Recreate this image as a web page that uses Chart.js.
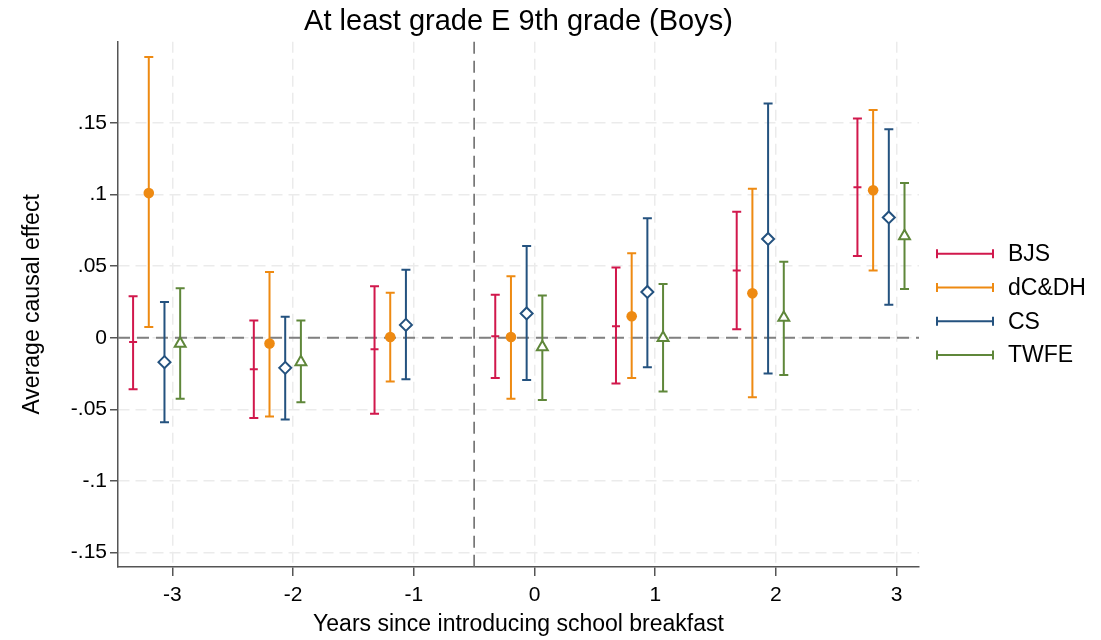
<!DOCTYPE html>
<html>
<head>
<meta charset="utf-8">
<title>At least grade E 9th grade (Boys)</title>
<script src="https://cdn.jsdelivr.net/npm/chart.js@4.4.1/dist/chart.umd.min.js"></script>
<style>
    html, body { margin: 0; padding: 0; background: #fff; }
    canvas { display: block; }
</style>
</head>
<body>
<canvas id="chart" width="1101" height="640"></canvas>
<script>
// ================= DATA =================

const years = [-3, -2, -1, 0, 1, 2, 3];

const bjsEst = [-0.003, -0.022, -0.008, 0.001, 0.008, 0.047, 0.105];
const bjsLo  = [-0.036, -0.056, -0.053, -0.028, -0.032, 0.006, 0.057];
const bjsHi  = [0.029, 0.012, 0.036, 0.030, 0.049, 0.088, 0.153];

const dcdhEst = [0.101, -0.004, 0.0005, 0.0005, 0.015, 0.031, 0.103];
const dcdhLo  = [0.0075, -0.055, -0.0305, -0.0425, -0.028, -0.0415, 0.047];
const dcdhHi  = [0.196, 0.046, 0.0315, 0.043, 0.059, 0.104, 0.159];

const csEst = [-0.017, -0.021, 0.009, 0.017, 0.032, 0.069, 0.084];
const csLo  = [-0.059, -0.057, -0.029, -0.0295, -0.0205, -0.025, 0.023];
const csHi  = [0.025, 0.0147, 0.0475, 0.064, 0.0835, 0.1635, 0.1455];

// TWFE has no estimate for the reference year -1
const twfeEst = [-0.004, -0.017, null, -0.0065, 0.0, 0.014, 0.071];
const twfeLo  = [-0.0425, -0.045, null, -0.0435, -0.0375, -0.026, 0.034];
const twfeHi  = [0.0345, 0.012, null, 0.0295, 0.0375, 0.053, 0.108];

const xTicks = [-3, -2, -1, 0, 1, 2, 3];
const xTickLabels = ["-3", "-2", "-1", "0", "1", "2", "3"];
const yTicks = [-0.15, -0.1, -0.05, 0, 0.05, 0.1, 0.15];
const yTickLabels = ["-.15", "-.1", "-.05", "0", ".05", ".1", ".15"];

const titleText = "At least grade E 9th grade (Boys)";
const xTitle = "Years since introducing school breakfast";
const yTitle = "Average causal effect";

const zeroLine = 0;
const treatmentLine = -0.5;

// ================= SERIES STYLE =================

const series = [
    { name: "BJS",   est: bjsEst,  lo: bjsLo,  hi: bjsHi,  color: "#d1184c", offset: -0.325, pointStyle: "line",     radius: 4,   fill: "#d1184c" },
    { name: "dC&DH", est: dcdhEst, lo: dcdhLo, hi: dcdhHi, color: "#ee8a12", offset: -0.195, pointStyle: "circle",   radius: 5.3, fill: "#ee8a12" },
    { name: "CS",    est: csEst,   lo: csLo,   hi: csHi,   color: "#24527f", offset: -0.065, pointStyle: "rectRot",  radius: 6,   fill: "#ffffff" },
    { name: "TWFE",  est: twfeEst, lo: twfeLo, hi: twfeHi, color: "#5f873a", offset: 0.065,  pointStyle: "triangle", radius: 6.3, fill: "#ffffff" }
];

const FONT = '"Liberation Sans", Arial, Helvetica, sans-serif';
Chart.defaults.font.family = FONT;
Chart.defaults.color = "#000";

// ================= PLUGINS =================

const referenceLines = {
    id: "referenceLines",
    beforeDatasetsDraw(chart) {
        const { ctx, chartArea, scales: { x, y } } = chart;
        ctx.save();
        ctx.lineWidth = 2;
        ctx.strokeStyle = "#808080";
        ctx.setLineDash([12, 7]);
        const y0 = y.getPixelForValue(zeroLine);
        ctx.beginPath();
        ctx.moveTo(chartArea.left, y0);
        ctx.lineTo(chartArea.right, y0);
        ctx.stroke();

        ctx.lineWidth = 1.6;
        ctx.strokeStyle = "#6e6e6e";
        const xv = x.getPixelForValue(treatmentLine);
        ctx.beginPath();
        ctx.moveTo(xv, chartArea.top);
        ctx.lineTo(xv, chartArea.bottom);
        ctx.stroke();
        ctx.restore();
    }
};

const errorBars = {
    id: "errorBars",
    beforeDatasetsDraw(chart) {
        const { ctx, scales: { x, y } } = chart;
        const cap = 4.5;
        ctx.save();
        ctx.lineWidth = 2;
        series.forEach(s => {
            ctx.strokeStyle = s.color;
            years.forEach((yr, i) => {
                if (s.lo[i] == null) return;
                const px = x.getPixelForValue(yr + s.offset);
                const pLo = y.getPixelForValue(s.lo[i]);
                const pHi = y.getPixelForValue(s.hi[i]);
                ctx.beginPath();
                ctx.moveTo(px, pLo);
                ctx.lineTo(px, pHi);
                ctx.moveTo(px - cap, pLo);
                ctx.lineTo(px + cap, pLo);
                ctx.moveTo(px - cap, pHi);
                ctx.lineTo(px + cap, pHi);
                ctx.stroke();
            });
        });
        ctx.restore();
    }
};

const sideLegend = {
    id: "sideLegend",
    afterDraw(chart) {
        const { ctx, chartArea } = chart;
        const mid = (chartArea.top + chartArea.bottom) / 2;
        const step = 33.7;
        const x1 = chartArea.right + 18;
        const x2 = chartArea.right + 74;
        ctx.save();
        ctx.font = "23px " + FONT;
        ctx.textBaseline = "middle";
        ctx.textAlign = "left";
        series.forEach((s, i) => {
            const yy = mid + (i - 1.5) * step;
            ctx.strokeStyle = s.color;
            ctx.lineWidth = 2;
            ctx.beginPath();
            ctx.moveTo(x1, yy);
            ctx.lineTo(x2, yy);
            ctx.moveTo(x1, yy - 4.5);
            ctx.lineTo(x1, yy + 4.5);
            ctx.moveTo(x2, yy - 4.5);
            ctx.lineTo(x2, yy + 4.5);
            ctx.stroke();
            ctx.fillStyle = "#000";
            ctx.fillText(s.name, chartArea.right + 89, yy + 1);
        });
        ctx.restore();
    }
};

// ================= CHART =================

const datasets = series.map(s => ({
    label: s.name,
    data: years
        .map((yr, i) => (s.est[i] == null ? null : { x: yr + s.offset, y: s.est[i] }))
        .filter(p => p !== null),
    pointStyle: s.pointStyle,
    radius: s.radius,
    borderColor: s.color,
    backgroundColor: s.fill,
    borderWidth: s.pointStyle === "circle" ? 0 : 2,
    showLine: false
}));

new Chart(document.getElementById("chart"), {
    type: "scatter",
    data: { datasets },
    options: {
        responsive: false,
        devicePixelRatio: 1,
        animation: false,
        events: [],
        layout: { padding: { top: 0, right: 182, bottom: 0, left: 0 } },
        plugins: {
            legend: { display: false },
            tooltip: { enabled: false },
            title: {
                display: true,
                fullSize: false,
                text: titleText,
                color: "#000",
                font: { size: 29, weight: "normal" },
                padding: { top: 5, bottom: 2 }
            }
        },
        scales: {
            x: {
                type: "linear",
                min: -3.45,
                max: 3.185,
                afterBuildTicks: s => { s.ticks = xTicks.map(v => ({ value: v })); },
                afterFit: s => { s.height = 73; },
                ticks: {
                    callback: (v, i) => xTickLabels[i],
                    font: { size: 21 },
                    color: "#000",
                    padding: 7,
                    maxRotation: 0,
                    autoSkip: false
                },
                grid: {
                    color: "#ebebeb",
                    lineWidth: 1.5,
                    tickLength: 9,
                    tickColor: "#555",
                    tickWidth: 1.5,
                    tickBorderDash: []
                },
                border: { display: true, color: "#555", width: 1.5, dash: [11, 6] },
                title: {
                    display: true,
                    text: xTitle,
                    color: "#000",
                    font: { size: 23 },
                    padding: { top: 0, bottom: 2 }
                }
            },
            y: {
                type: "linear",
                min: -0.16,
                max: 0.2066,
                afterBuildTicks: s => { s.ticks = yTicks.map(v => ({ value: v })); },
                afterFit: s => { s.width = 118; },
                ticks: {
                    callback: (v, i) => yTickLabels[i],
                    font: { size: 21 },
                    color: "#000",
                    padding: 3
                },
                grid: {
                    color: "#ebebeb",
                    lineWidth: 1.5,
                    tickLength: 8,
                    tickColor: "#555",
                    tickWidth: 1.5,
                    tickBorderDash: []
                },
                border: { display: true, color: "#555", width: 1.5, dash: [11, 6] },
                title: {
                    display: true,
                    text: yTitle,
                    color: "#000",
                    font: { size: 23 },
                    padding: { top: 19, bottom: 0 }
                }
            }
        }
    },
    plugins: [referenceLines, errorBars, sideLegend]
});
</script>
</body>
</html>
